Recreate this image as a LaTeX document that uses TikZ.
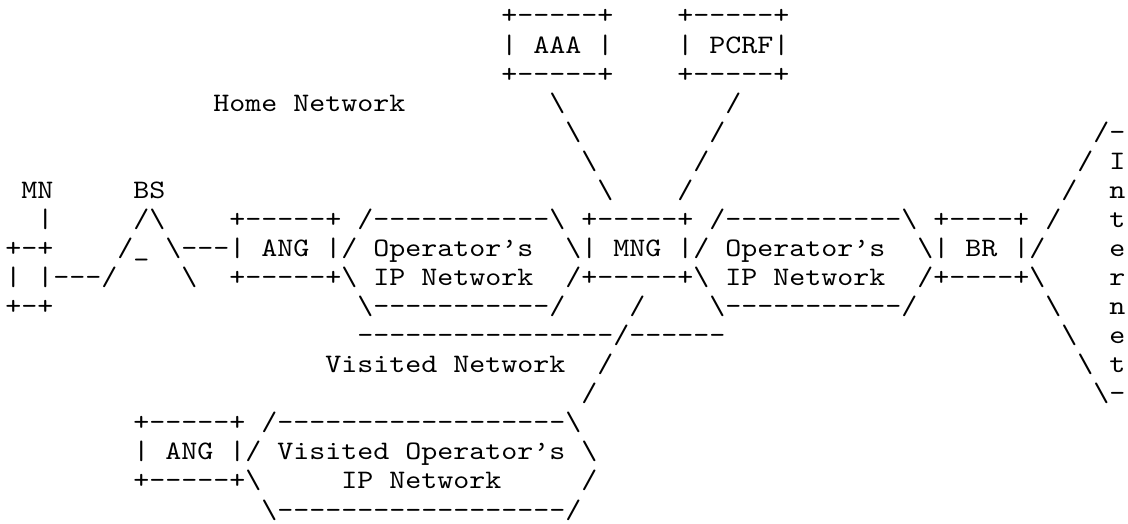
\documentclass[tikz,border=0pt]{standalone}
\usepackage{fontspec}
\setmonofont{lmmono10-regular}[Extension=.otf,FakeStretch=1.1429]
\newcommand\bsl{\textbackslash}
\tikzset{art/.style={font={\ttfamily\fontsize{13.33pt}{14.53pt}\selectfont\spaceskip=8pt\relax},inner sep=0pt,anchor=base west}}

\begin{document}
\begin{tikzpicture}[x=8pt,y=-14.53pt,every node/.style={art}]
\useasboundingbox (-2.5pt,-2.53pt) rectangle (561.5pt,-264.04pt);
% home network servers
\node (aaatop) at (31,1) {+-----+};
\node (aaa) at (31,2) {| AAA |};
\node (aaabot) at (31,3) {+-----+};
\node (pcrftop) at (42,1) {+-----+};
\node (pcrf) at (42,2) {| PCRF|};
\node (pcrfbot) at (42,3) {+-----+};
\node (home) at (13,4) {Home Network};
\foreach \i in {0,...,3} {
  \node (aaalink\i) at (34+\i,4+\i) {\bsl};
  \node (pcrflink\i) at (45-\i,4+\i) {/};
}
% mobile node and base station
\node (mn) at (1,7) {MN};
\node (bs) at (8,7) {BS};
\node (mnlink) at (2,8) {|};
\node (bstop) at (8,8) {/\bsl};
\node (mntop) at (0,9) {+-+};
\node (bsmid) at (7,9) {/\_ \bsl---| ANG |/ Operator’s};
\node (mnbox) at (0,10) {| |---/};
\node (bsfoot) at (11,10) {\bsl};
\node (mnbot) at (0,11) {+-+};
% home operator's networks, MNG and BR
\node (hometop) at (14,8) {+-----+ /-----------\bsl{} +-----+ /-----------\bsl{} +----+};
\node (mng) at (35,9) {\bsl| MNG |/ Operator’s};
\node (br) at (57,9) {\bsl| BR |/};
\node (angbot) at (14,10) {+-----+\bsl{} IP Network};
\node (mngbot) at (35,10) {/+-----+\bsl{} IP Network};
\node (brbot) at (57,10) {/+----+\bsl};
\node (homebotl) at (22,11) {\bsl-----------/};
\node (homebotr) at (44,11) {\bsl-----------/};
% border to the visited network
\node (vislink0) at (39,11) {/};
\node (border) at (22,12) {----------------/------};
\node (visited) at (20,13) {Visited Network};
\node (vislink1) at (37,13) {/};
\node (vislink2) at (36,14) {/};
% visited operator's network
\node (vistop) at (8,15) {+-----+ /------------------\bsl};
\node (visang) at (8,16) {| ANG |/ Visited Operator’s \bsl};
\node (visbot) at (8,17) {+-----+\bsl};
\node (visip) at (21,17) {IP Network};
\node (visedge) at (36,17) {/};
\node (visfoot) at (16,18) {\bsl------------------/};
% internet
\foreach \i in {0,...,3} {
  \node (uplink\i) at (65+\i,8-\i) {/};
  \node (downlink\i) at (65+\i,11+\i) {\bsl};
}
\foreach \ch [count=\i from 5] in {-,I,n,t,e,r,n,e,t,-}
  \node (inet\i) at (69,\i) {\ch};
\end{tikzpicture}
\end{document}
